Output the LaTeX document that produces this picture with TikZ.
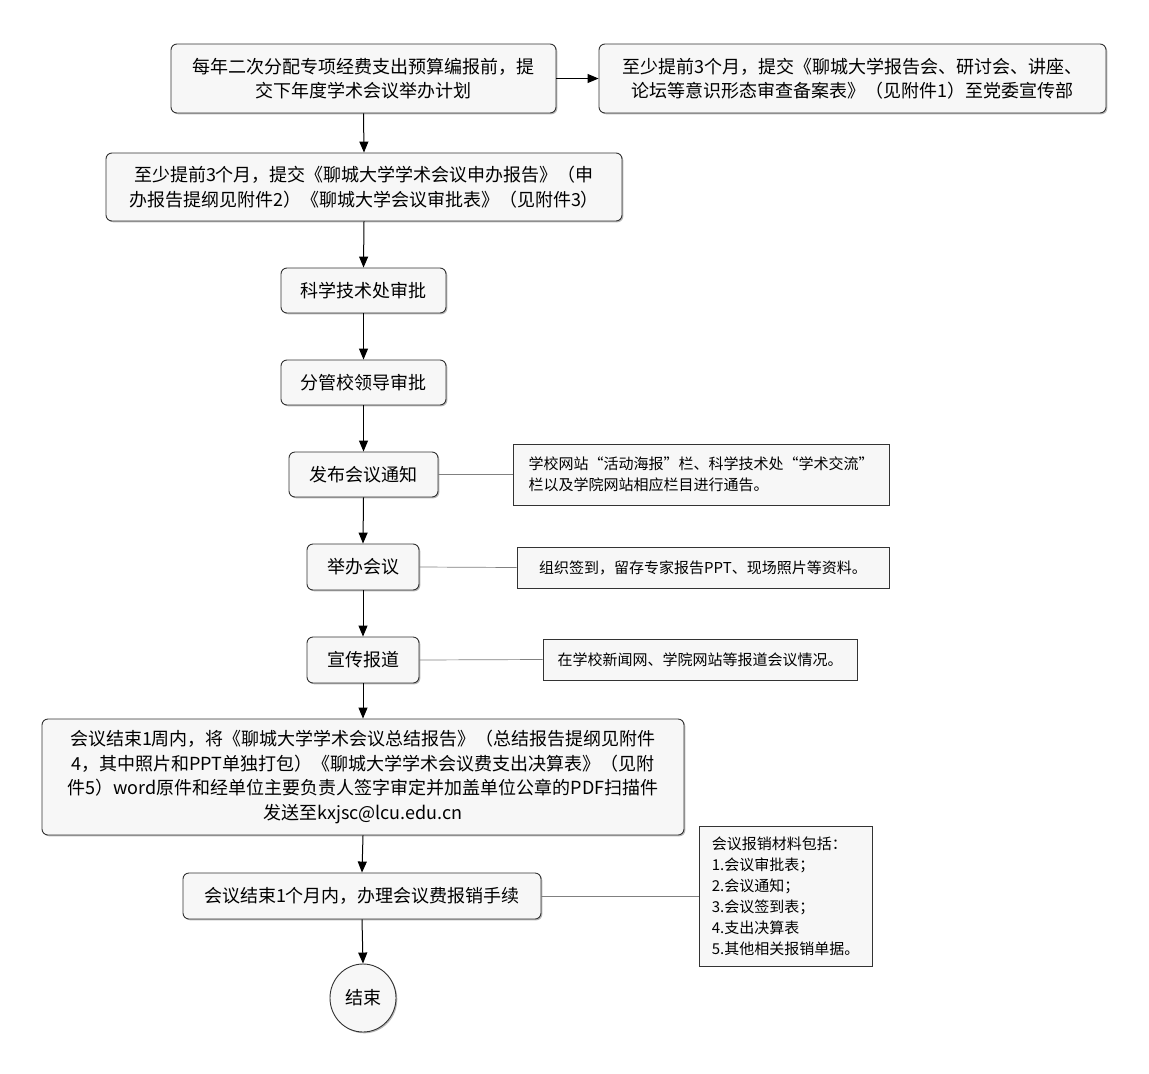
\documentclass[tikz,border=0pt]{standalone}
\usepackage{fontspec}
\setmainfont{Noto Sans CJK SC}
\usetikzlibrary{arrows.meta,shapes.geometric,shadows}
\definecolor{boxfill}{HTML}{F7F7F7}
\definecolor{boxline}{HTML}{333333}
\begin{document}
\begin{tikzpicture}[x=1pt,y=-1pt,
  stepbox/.style={draw=boxline, line width=0.9pt, fill=boxfill, rounded corners=6pt,
    inner sep=0pt, align=center, font=\fontsize{18}{24.5}\selectfont,
    drop shadow={shadow xshift=1.3pt, shadow yshift=-1.3pt, opacity=0.55, fill=gray}},
  notebox/.style={draw=boxline, line width=0.9pt, fill=boxfill,
    inner sep=0pt, align=left, font=\fontsize{15}{21}\selectfont,
    drop shadow={shadow xshift=1.3pt, shadow yshift=-1.3pt, opacity=0.55, fill=gray}},
  flow/.style={draw=black, line width=1pt, -{Triangle[length=11pt,width=9pt]}},
  link/.style={draw=gray, line width=0.7pt}]
\fill[white] (0,0) rectangle (1149,1074);
\useasboundingbox (0,0) rectangle (1149,1074);

\node[stepbox, minimum width=385pt, minimum height=69pt] (a) at (363.5,78.5)
  {每年二次分配专项经费支出预算编报前，提\\交下年度学术会议举办计划};
\node[stepbox, minimum width=507pt, minimum height=69pt] (b) at (852.5,78.5)
  {至少提前3个月，提交《聊城大学报告会、研讨会、讲座、\\论坛等意识形态审查备案表》（见附件1）至党委宣传部};
\node[stepbox, minimum width=516pt, minimum height=68pt] (c) at (364,187)
  {至少提前3个月，提交《聊城大学学术会议申办报告》（申\\办报告提纲见附件2）《聊城大学会议审批表》（见附件3）};
\node[stepbox, minimum width=165pt, minimum height=45pt] (d) at (363.5,290.5) {科学技术处审批};
\node[stepbox, minimum width=165pt, minimum height=45pt] (e) at (363.5,382.5) {分管校领导审批};
\node[stepbox, minimum width=149pt, minimum height=45pt] (f) at (363.5,474.5) {发布会议通知};
\node[notebox, minimum width=376pt, minimum height=61pt] (nf) at (701,474.5)
  {学校网站“活动海报”栏、科学技术处“学术交流”\\栏以及学院网站相应栏目进行通告。};
\node[stepbox, minimum width=112pt, minimum height=46pt] (g) at (363,567) {举办会议};
\node[notebox, minimum width=372pt, minimum height=41pt] (ng) at (703,567.5)
  {组织签到，留存专家报告PPT、现场照片等资料。};
\node[stepbox, minimum width=112pt, minimum height=46pt] (h) at (363,660) {宣传报道};
\node[notebox, minimum width=314pt, minimum height=41pt] (nh) at (700,659.5)
  {在学校新闻网、学院网站等报道会议情况。};
\node[stepbox, minimum width=642pt, minimum height=116pt] (i) at (363,777)
  {会议结束1周内，将《聊城大学学术会议总结报告》（总结报告提纲见附件\\4，其中照片和PPT单独打包）《聊城大学学术会议费支出决算表》（见附\\件5）word原件和经单位主要负责人签字审定并加盖单位公章的PDF扫描件\\发送至kxjsc@lcu.edu.cn};
\node[stepbox, minimum width=358pt, minimum height=46pt] (j) at (362,896)
  {会议结束1个月内，办理会议费报销手续};
\node[notebox, minimum width=173pt, minimum height=140pt] (nj) at (785.5,896)
  {会议报销材料包括：\\1.会议审批表；\\2.会议通知；\\3.会议签到表；\\4.支出决算表\\5.其他相关报销单据。};
\node[stepbox, ellipse, rounded corners=0pt, minimum width=66pt, minimum height=68pt] (k) at (363,998) {结束};

\draw[flow] (a.east) -- (b.west);
\draw[flow] (a.south) -- (c.north);
\draw[flow] (c.south) -- (d.north);
\draw[flow] (d.south) -- (e.north);
\draw[flow] (e.south) -- (f.north);
\draw[flow] (f.south) -- (g.north);
\draw[flow] (g.south) -- (h.north);
\draw[flow] (h.south) -- (i.north);
\draw[flow] (i.south) -- (j.north);
\draw[flow] (j.south) -- (k.north);

\draw[link] (f.east) -- (nf.west);
\draw[link] (g.east) -- (ng.west);
\draw[link] (h.east) -- (nh.west);
\draw[link] (j.east) -- (nj.west);
\end{tikzpicture}
\end{document}
